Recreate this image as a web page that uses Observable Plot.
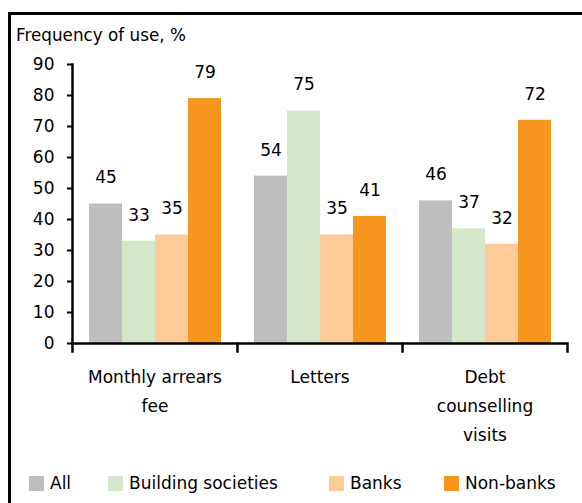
<!DOCTYPE html>
<html><head><meta charset="utf-8">
<script src="https://cdn.jsdelivr.net/npm/d3@7"></script>
<script src="https://cdn.jsdelivr.net/npm/@observablehq/plot@0.6"></script>
<style>
body{margin:0;background:#fff;font-family:"DejaVu Sans",sans-serif;color:#000;}
#wrap{position:relative;width:582px;height:503px;overflow:hidden;}
#box{position:absolute;left:8px;top:12px;width:620px;height:540px;border-left:3px solid #000;border-top:3px solid #000;}
#title{position:absolute;left:16px;top:23px;font-size:16.8px;line-height:24px;}
#chart{position:absolute;left:0;top:50px;}
.leg{position:absolute;top:471px;font-size:17px;line-height:24px;display:flex;align-items:center;white-space:nowrap;}
.sw{width:15px;height:15px;margin-right:6px;}
</style></head><body>
<div id="wrap"><div id="box"></div><div id="title">Frequency of use, %</div><div id="chart"></div><div id="legend"></div></div>
<script>
const categories = ["Monthly arrears\nfee", "Letters", "Debt\ncounselling\nvisits"];
const series = ["All", "Building societies", "Banks", "Non-banks"];
const colors = ["#BEBEBE", "#D4E7C8", "#FDCB98", "#F7961E"];
const allValues = [45, 54, 46];
const buildingSocieties = [33, 75, 37];
const banks = [35, 35, 32];
const nonBanks = [79, 41, 72];
const yTicks = [0, 10, 20, 30, 40, 50, 60, 70, 80, 90];
const legendLeft = [29, 108, 329, 444];

const seriesValues = [allValues, buildingSocieties, banks, nonBanks];
const data = [];
categories.forEach((c, i) => series.forEach((s, j) => data.push({category: c, series: s, value: seriesValues[j][i]})));

const chart = Plot.plot({
  width: 582, height: 413,
  marginTop: 14, marginBottom: 120, marginLeft: 72, marginRight: 15,
  style: {fontFamily: '"DejaVu Sans", sans-serif', fontSize: "17px", color: "#000", background: "transparent", overflow: "visible"},
  fx: {domain: categories, padding: 0, label: null},
  x: {domain: series, paddingInner: 0, paddingOuter: 0.48, axis: null},
  y: {domain: [0, 90], label: null},
  color: {domain: series, range: colors},
  marks: [
    Plot.barY(data, {fx: "category", x: "series", y: "value", fill: "series"}),
    Plot.text(data, {fx: "category", x: "series", y: "value", text: d => String(d.value), dy: -26, fill: "#000", fontSize: 17}),
    Plot.axisY({ticks: yTicks, tickSize: 5, tickPadding: 13, label: null, strokeWidth: 2, fontSize: 17}),
    Plot.axisFx({anchor: "bottom", tickSize: 0, tickPadding: 19, label: null, lineHeight: 1.7, fontSize: 17}),
    Plot.ruleY([0], {strokeWidth: 2.5}),
    Plot.frame({anchor: "left", facetAnchor: "left", strokeWidth: 2.5}),
    Plot.frame({anchor: "left", insetTop: 279, insetBottom: -8, strokeWidth: 2.5}),
    Plot.frame({anchor: "right", facetAnchor: "right", insetTop: 279, insetBottom: -8, strokeWidth: 2.5})
  ]
});
document.getElementById("chart").appendChild(chart);

const leg = document.getElementById("legend");
series.forEach((s, j) => {
  const d = document.createElement("div");
  d.className = "leg";
  d.style.left = legendLeft[j] + "px";
  d.innerHTML = `<span class="sw" style="background:${colors[j]}"></span><span>${s}</span>`;
  leg.appendChild(d);
});
</script>
</body></html>
